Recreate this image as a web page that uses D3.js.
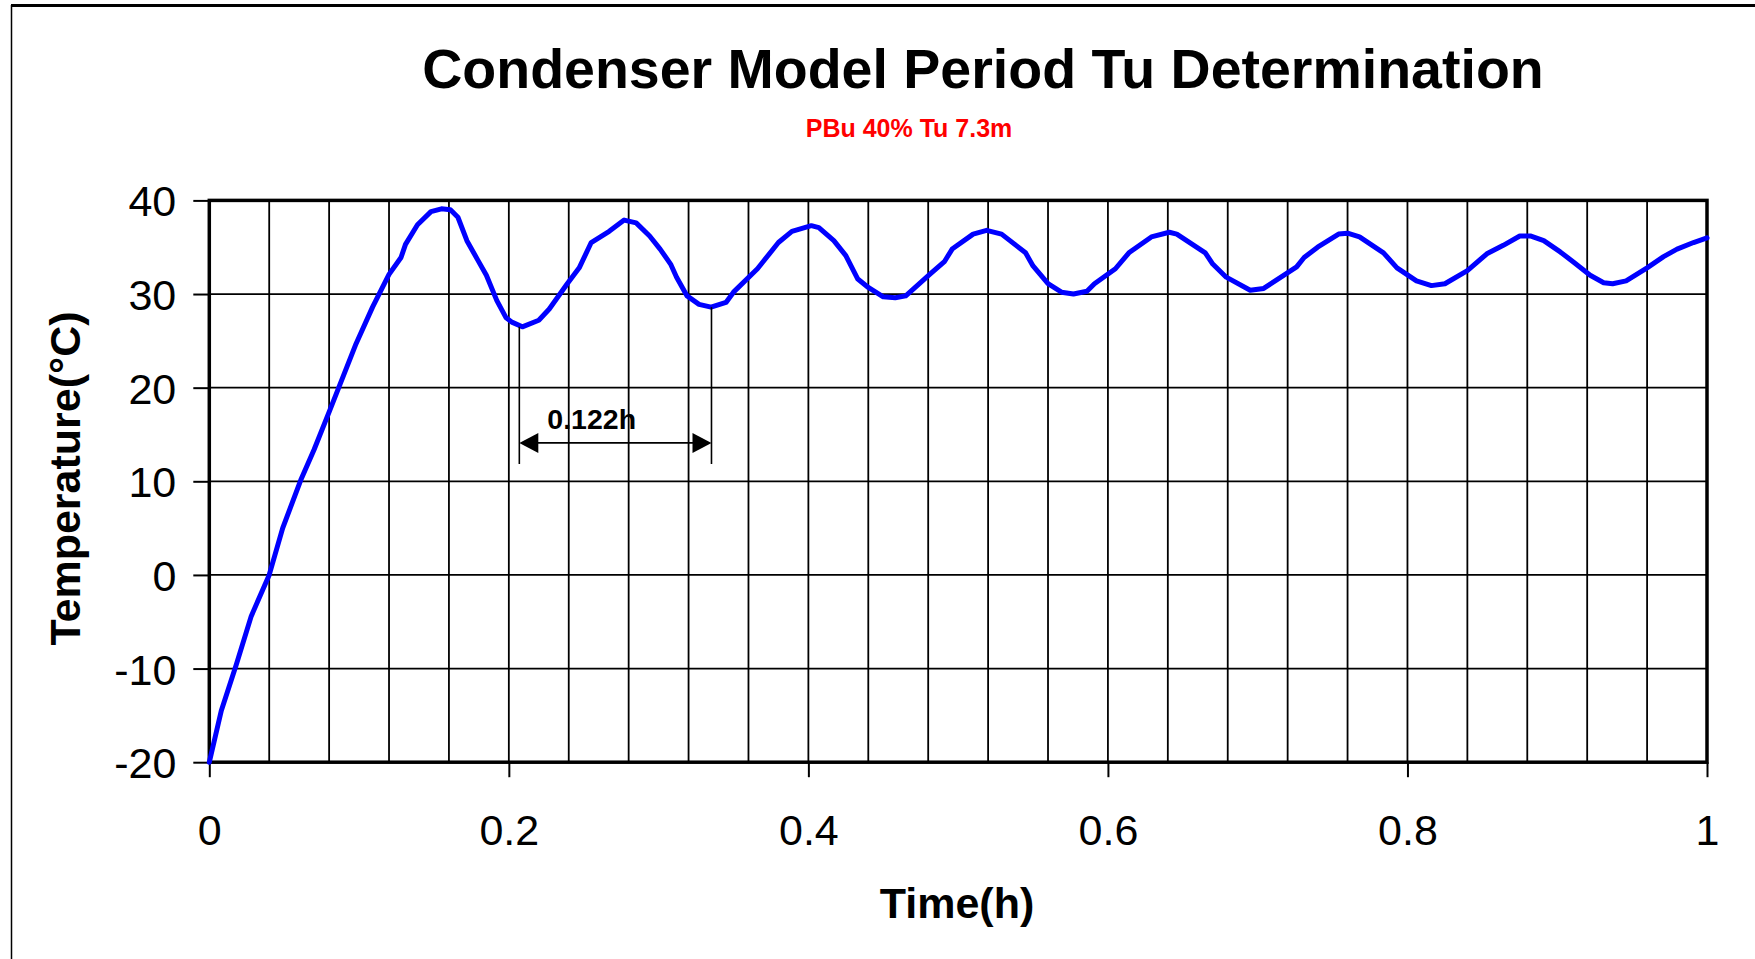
<!DOCTYPE html>
<head>
  <meta charset="utf-8">
  <script src="https://cdn.jsdelivr.net/npm/d3@7/dist/d3.min.js"></script>
  <style>
    body { margin: 0; background: white; }
    text { font-family: "Liberation Sans", Arial, sans-serif; }
  </style>
</head>
<body>
  <div id="chartDiv"></div>
  <script>

  // time (h) and condenser temperature (°C)
  var timeH = [0, 0.008, 0.018, 0.028, 0.04, 0.049, 0.061, 0.07, 0.0805, 0.098,
    0.109, 0.12, 0.128, 0.131, 0.139, 0.148, 0.155, 0.161, 0.166, 0.172,
    0.179, 0.185, 0.192, 0.198, 0.202, 0.209, 0.22, 0.227, 0.239, 0.247,
    0.255, 0.267, 0.277, 0.285, 0.294, 0.301, 0.308, 0.312, 0.319, 0.327,
    0.335, 0.345, 0.35, 0.366, 0.37, 0.38, 0.389, 0.402, 0.407, 0.417,
    0.425, 0.433, 0.44, 0.45, 0.458, 0.465, 0.481, 0.491, 0.496, 0.51,
    0.519, 0.529, 0.545, 0.55, 0.56, 0.569, 0.577, 0.586, 0.591, 0.605,
    0.614, 0.629, 0.641, 0.646, 0.665, 0.67, 0.679, 0.695, 0.704, 0.726,
    0.731, 0.74, 0.754, 0.76, 0.768, 0.784, 0.793, 0.806, 0.816, 0.825,
    0.84, 0.853, 0.864, 0.875, 0.882, 0.891, 0.902, 0.911, 0.922, 0.931,
    0.937, 0.946, 0.96, 0.971, 0.98, 0.991, 1.0];

  var tempC = [-20, -14.5, -9.6, -4.4, 0, 5.0, 10.1, 13.4, 17.6, 24.7,
    28.6, 32.1, 33.9, 35.3, 37.4, 38.8, 39.1, 39.0, 38.2, 35.7,
    33.7, 32.0, 29.3, 27.5, 27.0, 26.5, 27.2, 28.4, 31.1, 32.8,
    35.5, 36.7, 37.9, 37.6, 36.2, 34.8, 33.2, 31.8, 29.8, 28.9,
    28.6, 29.1, 30.2, 32.7, 33.5, 35.5, 36.7, 37.3, 37.1, 35.7,
    34.1, 31.6, 30.7, 29.7, 29.6, 29.8, 32.1, 33.5, 34.8, 36.4,
    36.8, 36.4, 34.4, 33.0, 31.1, 30.2, 30.0, 30.3, 31.1, 32.7,
    34.4, 36.1, 36.6, 36.4, 34.4, 33.2, 31.8, 30.4, 30.6, 32.9,
    33.9, 35.0, 36.4, 36.5, 36.1, 34.4, 32.8, 31.4, 30.9, 31.1,
    32.5, 34.3, 35.2, 36.2, 36.2, 35.7, 34.5, 33.4, 32.0, 31.2,
    31.1, 31.4, 32.8, 34.0, 34.8, 35.5, 36.0];

  var xTicks = [0, 0.2, 0.4, 0.6, 0.8, 1];
  var yTicks = [-20, -10, 0, 10, 20, 30, 40];

  // period marker: two minima and the label between them
  var markTimes = [0.207, 0.3353];
  var markTopTemps = [26.5, 28.6];
  var markBottomTemp = 11.85;
  var arrowTemp = 14.1;
  var periodLabel = "0.122h";
  var periodLabelPos = [0.2257, 15.6];

  var width = 1755;
  var height = 959;
  var plotLeft = 209.3, plotRight = 1707, plotTop = 200.4, plotBottom = 762.2;

  var svg = d3.select("#chartDiv").append("svg")
    .attr("width", width)
    .attr("height", height);

  svg.append("rect")
    .attr("width", width)
    .attr("height", height)
    .style("fill", "white");

  // outer chart frame (only top and left edges visible)
  svg.append("line")
    .attr("x1", 11).attr("x2", width)
    .attr("y1", 5.5).attr("y2", 5.5)
    .style("stroke", "black").style("stroke-width", 3);
  svg.append("line")
    .attr("x1", 11.5).attr("x2", 11.5)
    .attr("y1", 5).attr("y2", height)
    .style("stroke", "black").style("stroke-width", 1.5);

  var x = d3.scaleLinear().domain([0, 1]).range([plotLeft, plotRight]);
  var y = d3.scaleLinear().domain([-20, 40]).range([plotBottom, plotTop]);

  // grid
  var grid = svg.append("g");
  grid.selectAll(".vgrid")
    .data(d3.range(0, 1.0001, 0.04))
    .enter().append("line")
    .attr("x1", function(d) { return x(d); })
    .attr("x2", function(d) { return x(d); })
    .attr("y1", plotTop).attr("y2", plotBottom)
    .style("stroke", "black").style("stroke-width", 1.8);
  grid.selectAll(".hgrid")
    .data(yTicks)
    .enter().append("line")
    .attr("x1", plotLeft).attr("x2", plotRight)
    .attr("y1", function(d) { return y(d); })
    .attr("y2", function(d) { return y(d); })
    .style("stroke", "black").style("stroke-width", 1.8);

  // axes (plain hyphen for negatives, like the original)
  var plainFormat = function(d) { return String(d); };
  var xAxis = svg.append("g")
    .attr("transform", "translate(0," + plotBottom + ")")
    .call(d3.axisBottom(x).tickValues(xTicks).tickSize(15).tickPadding(37)
      .tickFormat(plainFormat));
  var yAxis = svg.append("g")
    .attr("transform", "translate(" + plotLeft + ",0)")
    .call(d3.axisLeft(y).tickValues(yTicks).tickSize(16).tickPadding(17)
      .tickFormat(plainFormat));

  [xAxis, yAxis].forEach(function(a) {
    a.select(".domain").remove();
    a.selectAll(".tick line").style("stroke", "black").style("stroke-width", 2);
    a.selectAll(".tick text")
      .style("font-family", "'Liberation Sans', Arial, sans-serif")
      .style("font-size", "43px")
      .style("fill", "black");
  });
  yAxis.selectAll(".tick text").attr("dy", "0.36em");

  // plot frame
  svg.append("rect")
    .attr("x", plotLeft).attr("y", plotTop)
    .attr("width", plotRight - plotLeft).attr("height", plotBottom - plotTop)
    .style("fill", "none")
    .style("stroke", "black")
    .style("stroke-width", 3.5);

  // temperature curve
  var line = d3.line()
    .x(function(d, i) { return x(timeH[i]); })
    .y(function(d) { return y(d); });

  svg.append("path")
    .datum(tempC)
    .attr("d", line)
    .style("fill", "none")
    .style("stroke", "#0000ff")
    .style("stroke-width", 5)
    .style("stroke-linejoin", "round")
    .style("stroke-linecap", "round");

  // period annotation
  var ann = svg.append("g");
  markTimes.forEach(function(t, i) {
    ann.append("line")
      .attr("x1", x(t)).attr("x2", x(t))
      .attr("y1", y(markTopTemps[i])).attr("y2", y(markBottomTemp))
      .style("stroke", "black").style("stroke-width", 1.6);
  });
  var ax1 = x(markTimes[0]), ax2 = x(markTimes[1]), ay = y(arrowTemp);
  ann.append("line")
    .attr("x1", ax1 + 10).attr("x2", ax2 - 10)
    .attr("y1", ay).attr("y2", ay)
    .style("stroke", "black").style("stroke-width", 1.6);
  ann.append("path")
    .attr("d", "M" + ax1 + "," + ay + "L" + (ax1 + 19) + "," + (ay - 10) + "L" + (ax1 + 19) + "," + (ay + 10) + "Z")
    .style("fill", "black");
  ann.append("path")
    .attr("d", "M" + ax2 + "," + ay + "L" + (ax2 - 19) + "," + (ay - 10) + "L" + (ax2 - 19) + "," + (ay + 10) + "Z")
    .style("fill", "black");
  ann.append("text")
    .attr("x", x(periodLabelPos[0]))
    .attr("y", y(periodLabelPos[1]))
    .style("font-size", "28.5px")
    .style("font-weight", "bold")
    .text(periodLabel);

  // titles
  svg.append("text")
    .attr("x", 983).attr("y", 87.5)
    .attr("text-anchor", "middle")
    .style("font-size", "55.5px")
    .style("font-weight", "bold")
    .text("Condenser Model Period Tu Determination");

  svg.append("text")
    .attr("x", 909).attr("y", 137)
    .attr("text-anchor", "middle")
    .style("font-size", "25px")
    .style("font-weight", "bold")
    .style("fill", "#ff0000")
    .text("PBu 40% Tu 7.3m");

  svg.append("text")
    .attr("x", 957).attr("y", 918)
    .attr("text-anchor", "middle")
    .style("font-size", "43px")
    .style("font-weight", "bold")
    .text("Time(h)");

  svg.append("text")
    .attr("transform", "translate(80,478.5) rotate(-90)")
    .attr("text-anchor", "middle")
    .style("font-size", "43px")
    .style("font-weight", "bold")
    .text("Temperature(°C)");

  </script>
</body>
